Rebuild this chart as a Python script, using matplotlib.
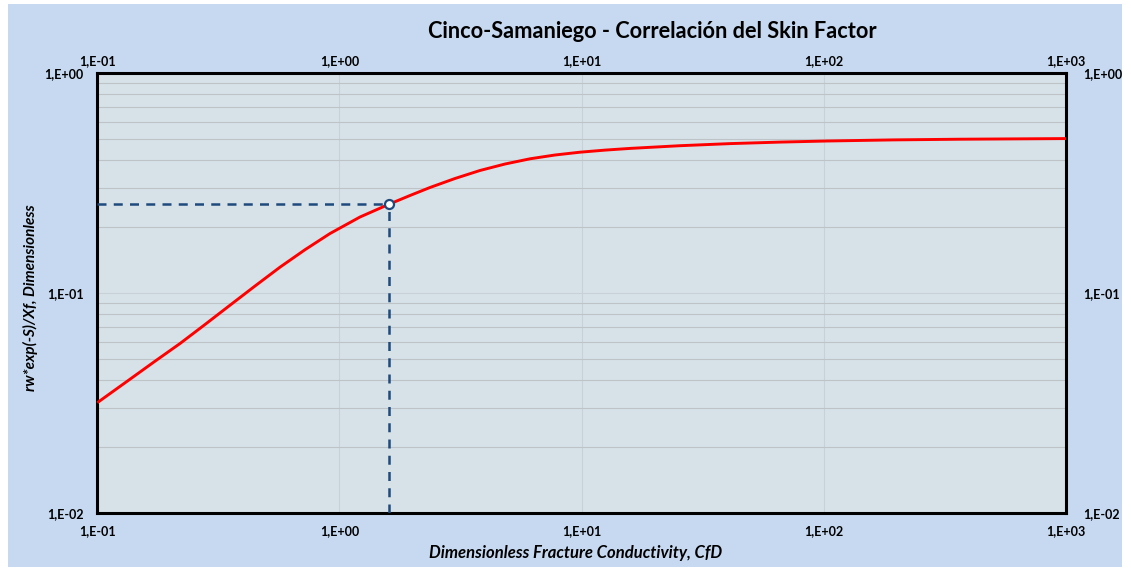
import numpy as np
import matplotlib
matplotlib.use("Agg")
import matplotlib.pyplot as plt
from matplotlib.patches import Rectangle
from matplotlib.ticker import FuncFormatter, LogLocator, NullFormatter

# ==========================================================
# Data
# ==========================================================

cfd = [0.1, 0.1183, 0.1365, 0.1731, 0.2196, 0.2784, 0.3532, 0.4479, 0.5680,
       0.7205, 0.9139, 1.216, 1.606, 1.955, 2.365, 2.999, 3.804, 4.826,
       6.118, 7.762, 9.845, 12.49, 15.84, 25.48, 40.99, 65.92, 103.1,
       193.1, 365.0, 1000]
rw_xf = [0.0317, 0.0362, 0.04053, 0.04892, 0.05887, 0.0718, 0.08788, 0.1074,
         0.1308, 0.1570, 0.1860, 0.2211, 0.2530, 0.2768, 0.3010, 0.3307,
         0.3596, 0.3848, 0.4063, 0.4228, 0.4354, 0.4450, 0.4530, 0.4660,
         0.4763, 0.4839, 0.4895, 0.4952, 0.4987, 0.5021]

# optimum point
cfd_opt = 1.606
rw_opt = 0.2530

title = "Cinco-Samaniego - Correlación del Skin Factor"
xlabel = "Dimensionless Fracture Conductivity, CfD"
ylabel = "rw*exp(-S)/Xf, Dimensionless"

# ==========================================================
# Figure
# ==========================================================

plt.rcParams["font.family"] = ["Lato", "DejaVu Sans"]
plt.rcParams["font.weight"] = "bold"

W, H = 1131, 568
fig = plt.figure(figsize=(W / 100, H / 100), dpi=100, facecolor="white")

fig.patches.append(Rectangle((8 / W, 1 - 567 / H), (1122 - 8) / W, (567 - 4) / H,
                             transform=fig.transFigure, facecolor="#C6D9F0",
                             edgecolor="none", zorder=-10))

left, right, top, bottom = 97.3, 1066, 72.7, 513
ax = fig.add_axes([left / W, 1 - bottom / H, (right - left) / W, (bottom - top) / H])
ax.set_facecolor("#D6E2E8")

ax.set_xscale("log")
ax.set_yscale("log")
ax.set_xlim(0.1, 1000)
ax.set_ylim(0.01, 1)

# grid
ax.yaxis.set_minor_locator(LogLocator(base=10, subs=np.arange(2, 10)))
ax.yaxis.set_minor_formatter(NullFormatter())
ax.xaxis.set_minor_formatter(NullFormatter())
ax.grid(True, which="major", axis="both", color="#C8D1D8", lw=0.8)
ax.grid(True, which="minor", axis="y", color="#BEC3C8", lw=0.8)
ax.set_axisbelow(True)

# dashed guide lines
ax.plot([0.1, cfd_opt], [rw_opt, rw_opt], color="#1F4A7D", lw=1.8,
        ls=(0, (3.6, 2.9)), zorder=3)
ax.plot([cfd_opt, cfd_opt], [0.01, rw_opt], color="#1F4A7D", lw=1.8,
        ls=(0, (3.6, 2.9)), zorder=3)

# correlation curve
ax.plot(cfd, rw_xf, color="#FF0000", lw=2.1, zorder=4,
        solid_capstyle="butt", solid_joinstyle="round")

ax.plot([cfd_opt], [rw_opt], marker="o", ms=6.5, mfc="white", mec="#1F4A7D",
        mew=1.6, zorder=5, clip_on=False)

fmt = FuncFormatter(lambda v, p: "1,E%+03d" % round(np.log10(v)))

for side in ["left", "right", "top", "bottom"]:
    ax.spines[side].set_color("black")
    ax.spines[side].set_linewidth(2.2)

ax.xaxis.set_major_formatter(fmt)
ax.yaxis.set_major_formatter(fmt)
ax.tick_params(which="both", length=0)
ax.tick_params(axis="x", which="major", pad=9, labelsize=9)
ax.tick_params(axis="y", which="major", pad=10, labelsize=9)

# top axis
axt = ax.twiny()
axt.set_xscale("log")
axt.set_xlim(0.1, 1000)
axt.xaxis.set_major_formatter(fmt)
axt.xaxis.set_minor_formatter(NullFormatter())
axt.tick_params(which="both", length=0, pad=4, labelsize=9)

# right axis
axr = ax.twinx()
axr.set_yscale("log")
axr.set_ylim(0.01, 1)
axr.yaxis.set_major_formatter(fmt)
axr.yaxis.set_minor_formatter(NullFormatter())
axr.tick_params(which="both", length=0, pad=12, labelsize=9)

for a in [axt, axr]:
    for side in ["left", "right", "top", "bottom"]:
        a.spines[side].set_visible(False)

fig.text(652 / W, 1 - 31.7 / H, title, ha="center", va="center",
         fontsize=15.7, fontweight="bold")
fig.text(576 / W, 1 - 552.7 / H, xlabel, ha="center", va="center",
         fontsize=12, fontweight="bold", style="italic")
fig.text(30 / W, 1 - 298 / H, ylabel, ha="center", va="center", rotation=90,
         fontsize=11, fontweight="bold", style="italic")

fig.savefig("out.png", dpi=100, facecolor=fig.get_facecolor())
